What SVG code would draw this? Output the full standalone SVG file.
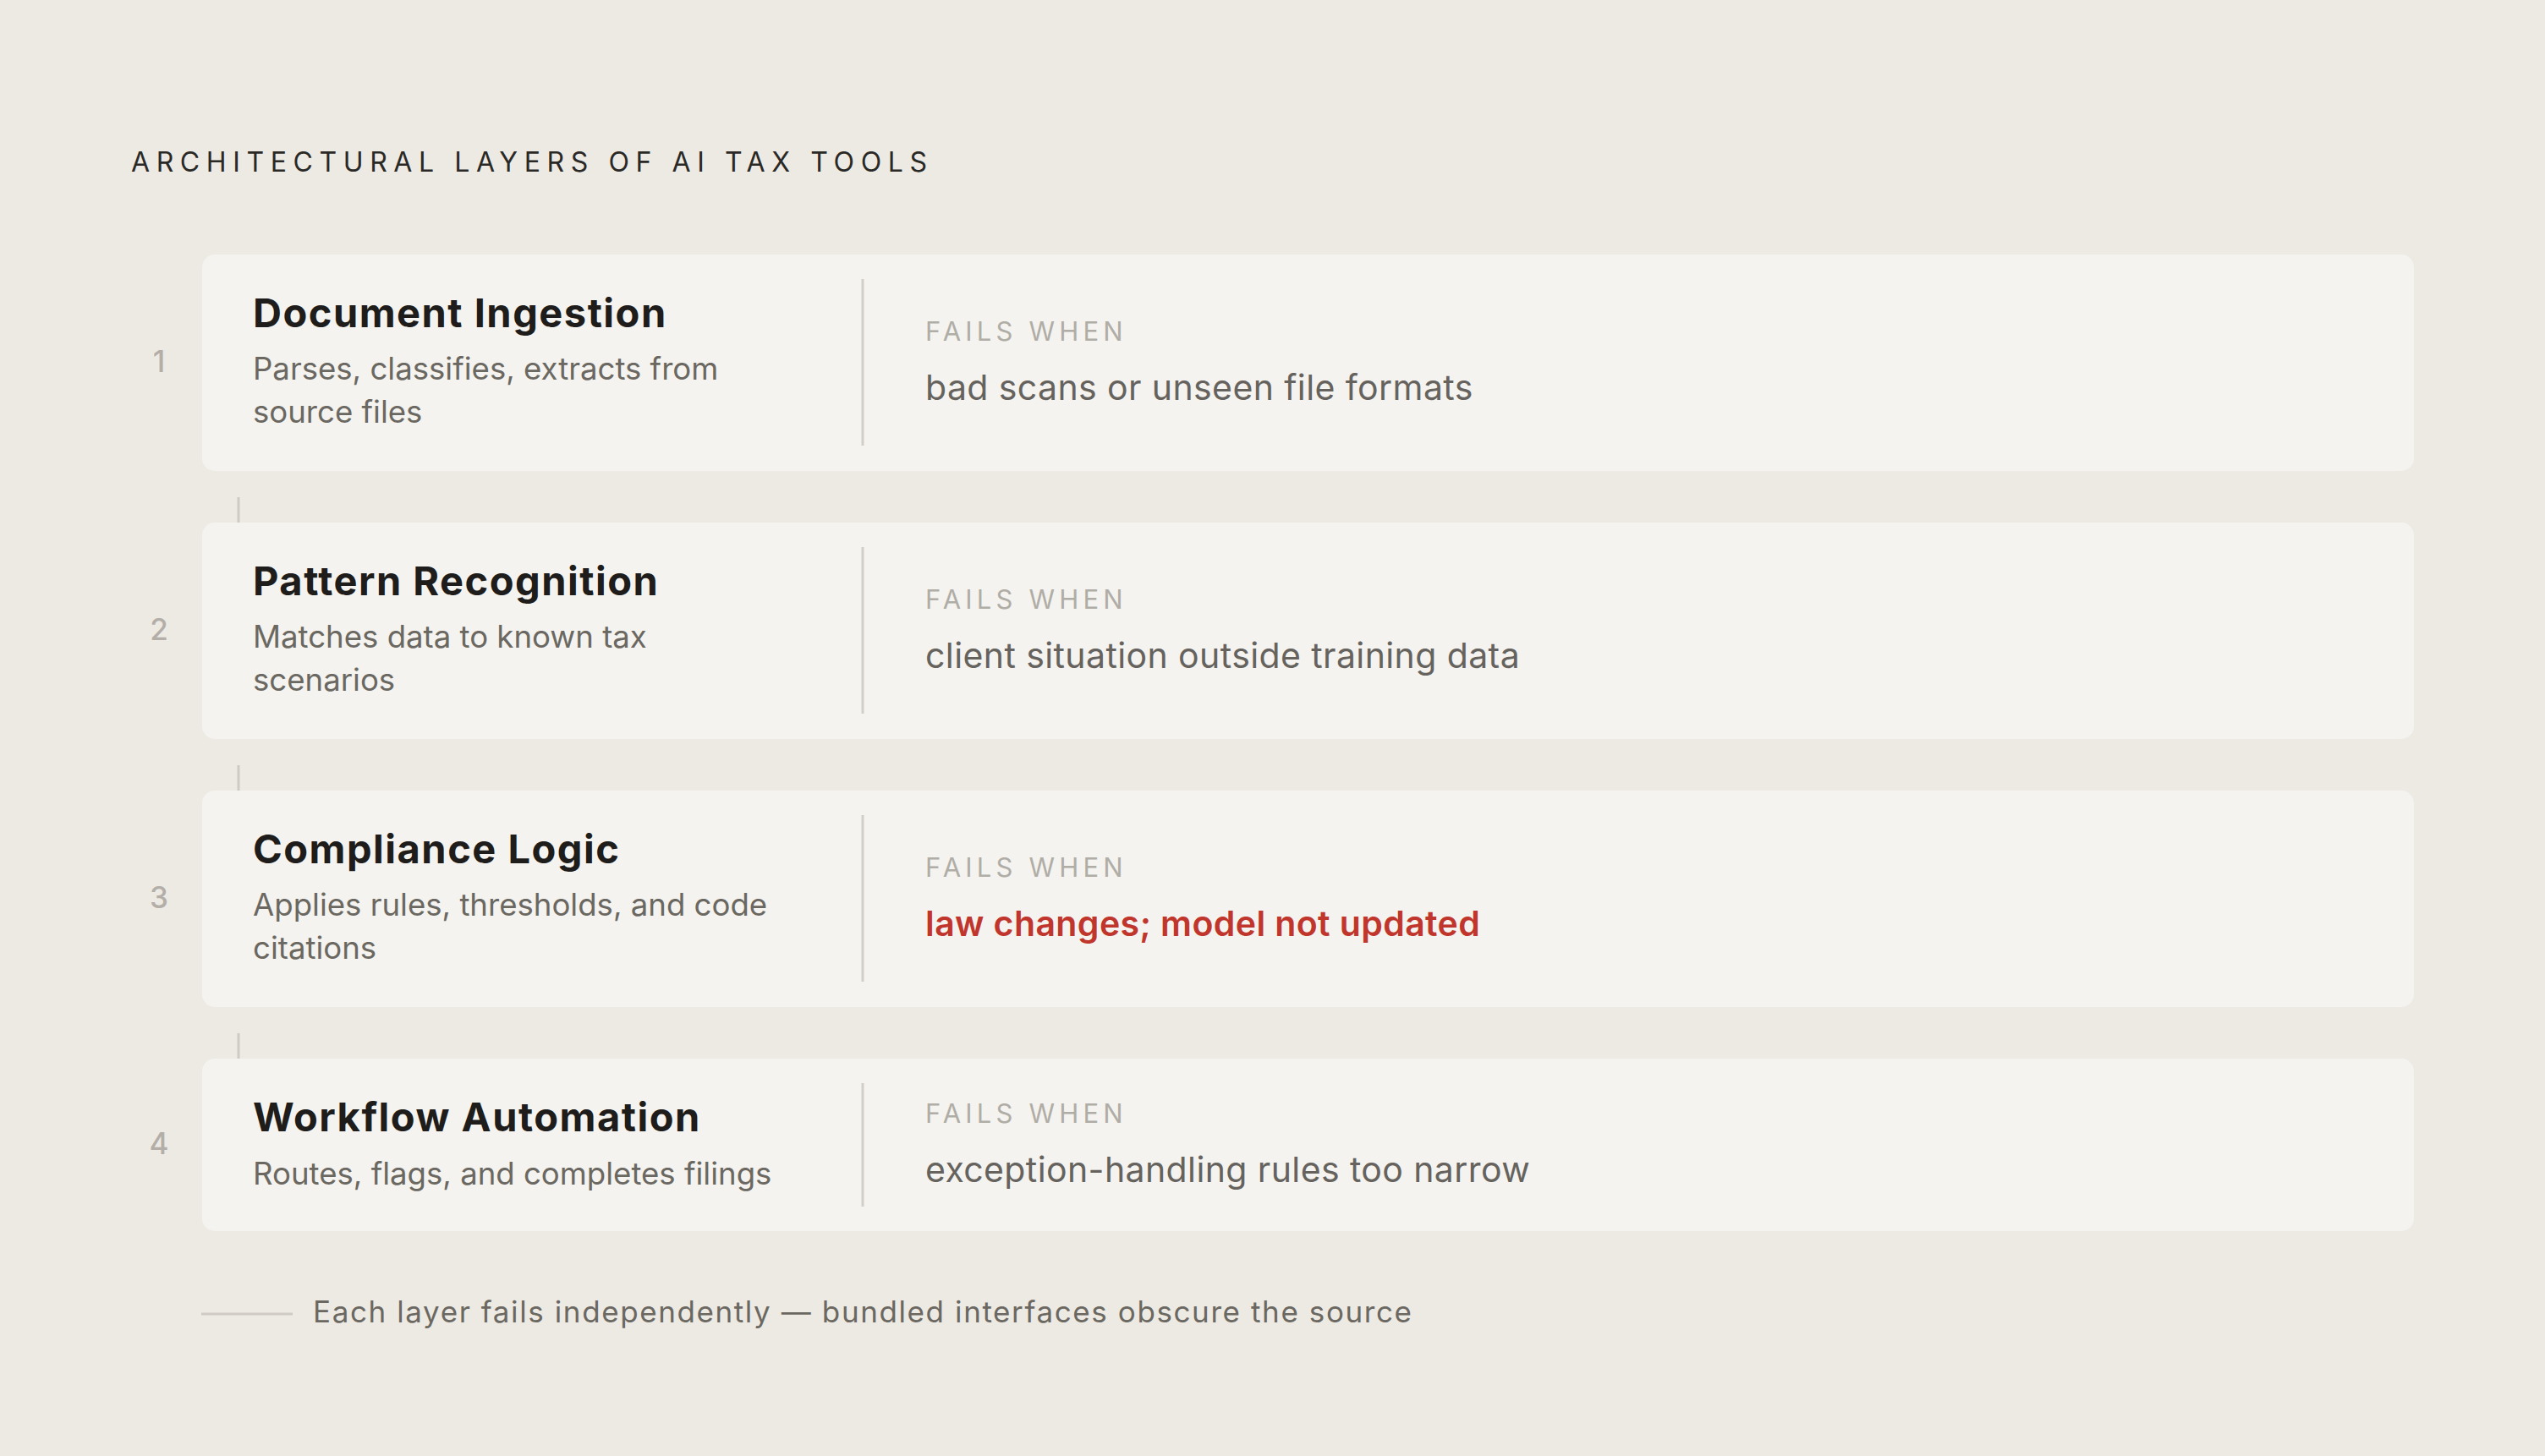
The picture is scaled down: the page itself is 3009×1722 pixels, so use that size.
<svg xmlns="http://www.w3.org/2000/svg" width="3009" height="1722" viewBox="0 0 3009 1722">
<style>
text{font-family:Inter,"Open Sans","Liberation Sans",sans-serif}
.bg{fill:#edeae4}
.card{fill:#f4f3ef}
.num{font-size:35px;fill:#b3afa8;text-anchor:middle;font-weight:500}
.ttl{font-size:47px;font-weight:700;fill:#1e1d1b;letter-spacing:1.5px}
.sub{font-size:36.6px;fill:#6b6862}
.fw{font-size:31px;fill:#b0ada6;letter-spacing:5.2px}
.ft{font-size:41px;fill:#66635e;letter-spacing:0.4px}
.red{fill:#c0362c;font-weight:600}
.div{stroke:#d3cfc8;stroke-width:3}
.tick{stroke:#cfcbc4;stroke-width:3}
.head{font-size:32px;fill:#2a2926;letter-spacing:7.6px;font-weight:400}
.foot{font-size:35px;fill:#6b6862;letter-spacing:1.6px}
</style>
<rect class="bg" x="0" y="0" width="3009" height="1722"/>
<text class="head" x="155" y="203">ARCHITECTURAL LAYERS OF AI TAX TOOLS</text>
<g id="connectors">
<line class="tick" x1="282" y1="588" x2="282" y2="618"/>
<line class="tick" x1="282" y1="905" x2="282" y2="935"/>
<line class="tick" x1="282" y1="1222" x2="282" y2="1252"/>
</g>
<g id="layer1">
<rect class="card" x="239" y="301" width="2615" height="256" rx="15"/>
<text class="num" x="188" y="440">1</text>
<text class="ttl" x="299" y="387">Document Ingestion</text>
<text class="sub" x="299" y="449">Parses, classifies, extracts from</text>
<text class="sub" x="299" y="500">source files</text>
<line class="div" x1="1020" y1="330" x2="1020" y2="527"/>
<text class="fw" x="1094" y="403">FAILS WHEN</text>
<text class="ft" x="1094" y="473">bad scans or unseen file formats</text>
</g>
<g id="layer2">
<rect class="card" x="239" y="618" width="2615" height="256" rx="15"/>
<text class="num" x="188" y="757">2</text>
<text class="ttl" x="299" y="704">Pattern Recognition</text>
<text class="sub" x="299" y="766">Matches data to known tax</text>
<text class="sub" x="299" y="817">scenarios</text>
<line class="div" x1="1020" y1="647" x2="1020" y2="844"/>
<text class="fw" x="1094" y="720">FAILS WHEN</text>
<text class="ft" x="1094" y="790">client situation outside training data</text>
</g>
<g id="layer3">
<rect class="card" x="239" y="935" width="2615" height="256" rx="15"/>
<text class="num" x="188" y="1074">3</text>
<text class="ttl" x="299" y="1021">Compliance Logic</text>
<text class="sub" x="299" y="1083">Applies rules, thresholds, and code</text>
<text class="sub" x="299" y="1134">citations</text>
<line class="div" x1="1020" y1="964" x2="1020" y2="1161"/>
<text class="fw" x="1094" y="1037">FAILS WHEN</text>
<text class="ft red" x="1094" y="1107">law changes; model not updated</text>
</g>
<g id="layer4">
<rect class="card" x="239" y="1252" width="2615" height="204" rx="15"/>
<text class="num" x="188" y="1365">4</text>
<text class="ttl" x="299" y="1338">Workflow Automation</text>
<text class="sub" x="299" y="1401">Routes, flags, and completes filings</text>
<line class="div" x1="1020" y1="1281" x2="1020" y2="1427"/>
<text class="fw" x="1094" y="1328">FAILS WHEN</text>
<text class="ft" x="1094" y="1398">exception-handling rules too narrow</text>
</g>
<g id="footer">
<line class="tick" x1="238" y1="1554" x2="346" y2="1554" stroke-width="2"/>
<text class="foot" x="370" y="1564">Each layer fails independently — bundled interfaces obscure the source</text>
</g>
</svg>
